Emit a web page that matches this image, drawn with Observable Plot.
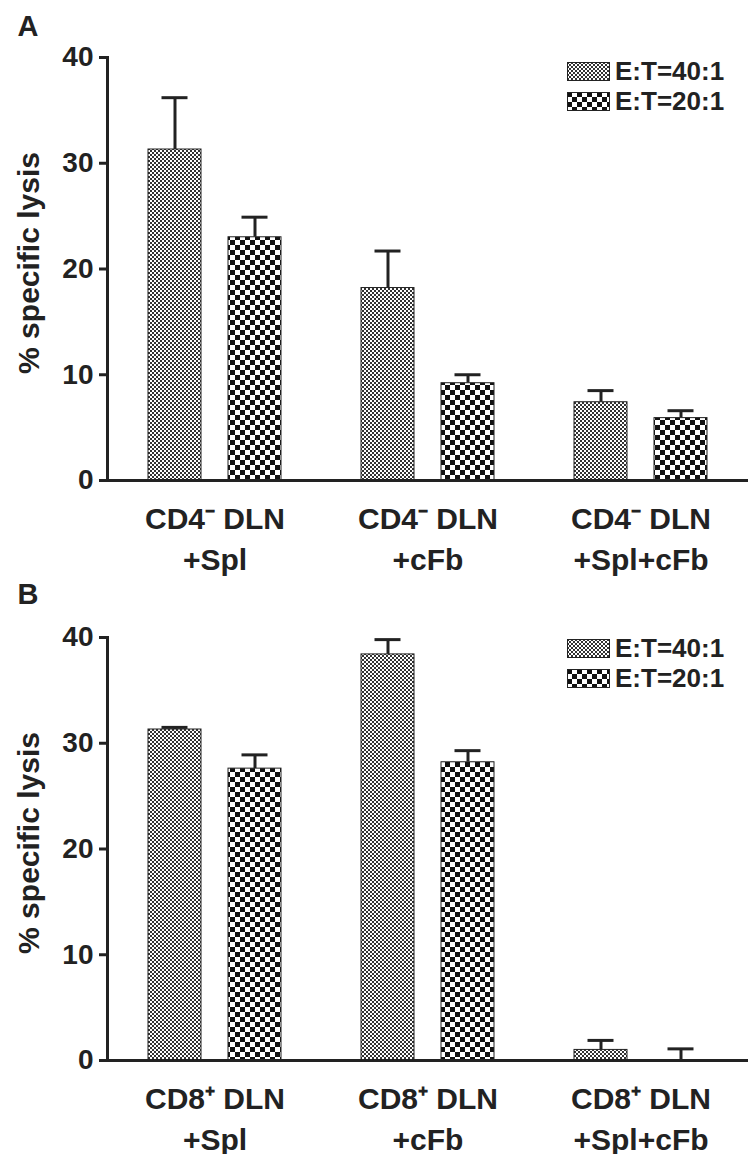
<!DOCTYPE html>
<html>
<head>
<meta charset="utf-8">
<script src="https://cdn.jsdelivr.net/npm/d3@7"></script>
<script src="https://cdn.jsdelivr.net/npm/@observablehq/plot@0.6"></script>
<style>
  html, body { margin: 0; padding: 0; background: #fff; }
  #root { width: 750px; }
  .panel { position: relative; width: 750px; height: 577px; }
  .legend { position: absolute; left: 567px; font-family: 'Liberation Sans', Arial, sans-serif; font-weight: bold; font-size: 26px; color: #222; }
  .legend .row { display: flex; align-items: center; height: 30px; }
  .legend svg { display: block; margin-right: 5px; }
</style>
</head>
<body>
<svg width="0" height="0" style="position:absolute">
  <defs>
    <pattern id="fine" width="4" height="4" patternUnits="userSpaceOnUse">
      <rect width="4" height="4" fill="#fff"/>
      <rect width="2" height="2" fill="#333"/>
      <rect x="2" y="2" width="2" height="2" fill="#333"/>
    </pattern>
    <pattern id="coarse" width="10" height="10" patternUnits="userSpaceOnUse">
      <rect width="10" height="10" fill="#fff"/>
      <rect width="5" height="5" fill="#111"/>
      <rect x="5" y="5" width="5" height="5" fill="#111"/>
    </pattern>
  </defs>
</svg>
<div id="root"></div>
<script>
// ---- data ----
const series = ["E:T=40:1", "E:T=20:1"];
const seriesFill = ["url(#fine)", "url(#coarse)"];
const yTicks = [0, 10, 20, 30, 40];
const yLabel = "% specific lysis";

const groupsA = ["CD4\u207B DLN\n+Spl", "CD4\u207B DLN\n+cFb", "CD4\u207B DLN\n+Spl+cFb"];
const lysisA40 = [31.3, 18.2, 7.4];
const errA40   = [4.9, 3.5, 1.1];
const lysisA20 = [23.0, 9.2, 5.9];
const errA20   = [1.9, 0.8, 0.7];

const groupsB = ["CD8\u207A DLN\n+Spl", "CD8\u207A DLN\n+cFb", "CD8\u207A DLN\n+Spl+cFb"];
const lysisB40 = [31.3, 38.4, 1.0];
const errB40   = [0.2, 1.4, 0.9];
const lysisB20 = [27.6, 28.2, 0.0];
const errB20   = [1.3, 1.1, 1.1];

const INK = "#222";

function panel({letter, groups, v40, e40, v20, e20, mt, mb, letterDy}) {
  const rows40 = groups.map((g, i) => ({group: g, series: series[0], value: v40[i], err: e40[i]}));
  const rows20 = groups.map((g, i) => ({group: g, series: series[1], value: v20[i], err: e20[i]}));
  const top = d => d.value + d.err;
  const errMarks = (rows, dx) => [
    Plot.ruleX(rows, {x: "group", y1: "value", y2: top, dx, stroke: INK, strokeWidth: 3}),
    Plot.tickY(rows, {x: "group", y: top, dx, insetLeft: 53.5, insetRight: 53.5, stroke: INK, strokeWidth: 3})
  ];
  return Plot.plot({
    width: 750,
    height: 577,
    marginLeft: 107,
    marginRight: 2,
    marginTop: mt,
    marginBottom: mb,
    style: {fontFamily: "'Liberation Sans', Arial, sans-serif", fontWeight: "bold", color: INK, background: "white", overflow: "visible"},
    x: {type: "band", domain: groups, paddingInner: 0.374, paddingOuter: 0.187, label: null},
    y: {domain: [0, 40], label: null},
    marks: [
      ...errMarks(rows40, -40),
      ...errMarks(rows20, 40),
      Plot.barY(rows40, {x: "group", y: "value", fill: seriesFill[0], stroke: INK, strokeWidth: 1, insetRight: 80}),
      Plot.barY(rows20, {x: "group", y: "value", fill: seriesFill[1], stroke: INK, strokeWidth: 1, insetLeft: 80}),
      Plot.axisY({ticks: yTicks, tickSize: 8, tickPadding: 6, fontSize: 28, strokeWidth: 3, stroke: INK, label: null}),
      Plot.axisX({tickSize: 0, tickPadding: 20, fontSize: 30, lineHeight: 1.35, label: null}),
      Plot.frame({anchor: "left", stroke: INK, strokeWidth: 3}),
      Plot.ruleY([0], {stroke: INK, strokeWidth: 3, insetLeft: -4}),
      Plot.text([yLabel], {frameAnchor: "left", textAnchor: "middle", rotate: -90, dx: -78, dy: -6, fontSize: 30, fill: INK, text: d => d}),
      Plot.text([letter], {frameAnchor: "top-left", dx: -90, dy: letterDy, textAnchor: "start", lineAnchor: "top", fontSize: 29, fill: INK, text: d => d})
    ]
  });
}

function legend(topPx) {
  const div = document.createElement("div");
  div.className = "legend";
  div.style.top = topPx + "px";
  series.forEach((s, i) => {
    const row = document.createElement("div");
    row.className = "row";
    row.innerHTML = `<svg width="43" height="19"><rect x="0.5" y="0.5" width="42" height="18" fill="${seriesFill[i]}" stroke="${INK}" stroke-width="1"/></svg><span>${s}</span>`;
    div.appendChild(row);
  });
  return div;
}

const root = document.getElementById("root");
const specs = [
  {letter: "A", groups: groupsA, v40: lysisA40, e40: errA40, v20: lysisA20, e20: errA20, mt: 57, mb: 97, letterDy: -42, legendTop: 56},
  {letter: "B", groups: groupsB, v40: lysisB40, e40: errB40, v20: lysisB20, e20: errB20, mt: 60, mb: 94, letterDy: -54, legendTop: 56}
];
for (const spec of specs) {
  const p = document.createElement("div");
  p.className = "panel";
  p.appendChild(panel(spec));
  p.appendChild(legend(spec.legendTop));
  root.appendChild(p);
}
</script>
</body>
</html>
